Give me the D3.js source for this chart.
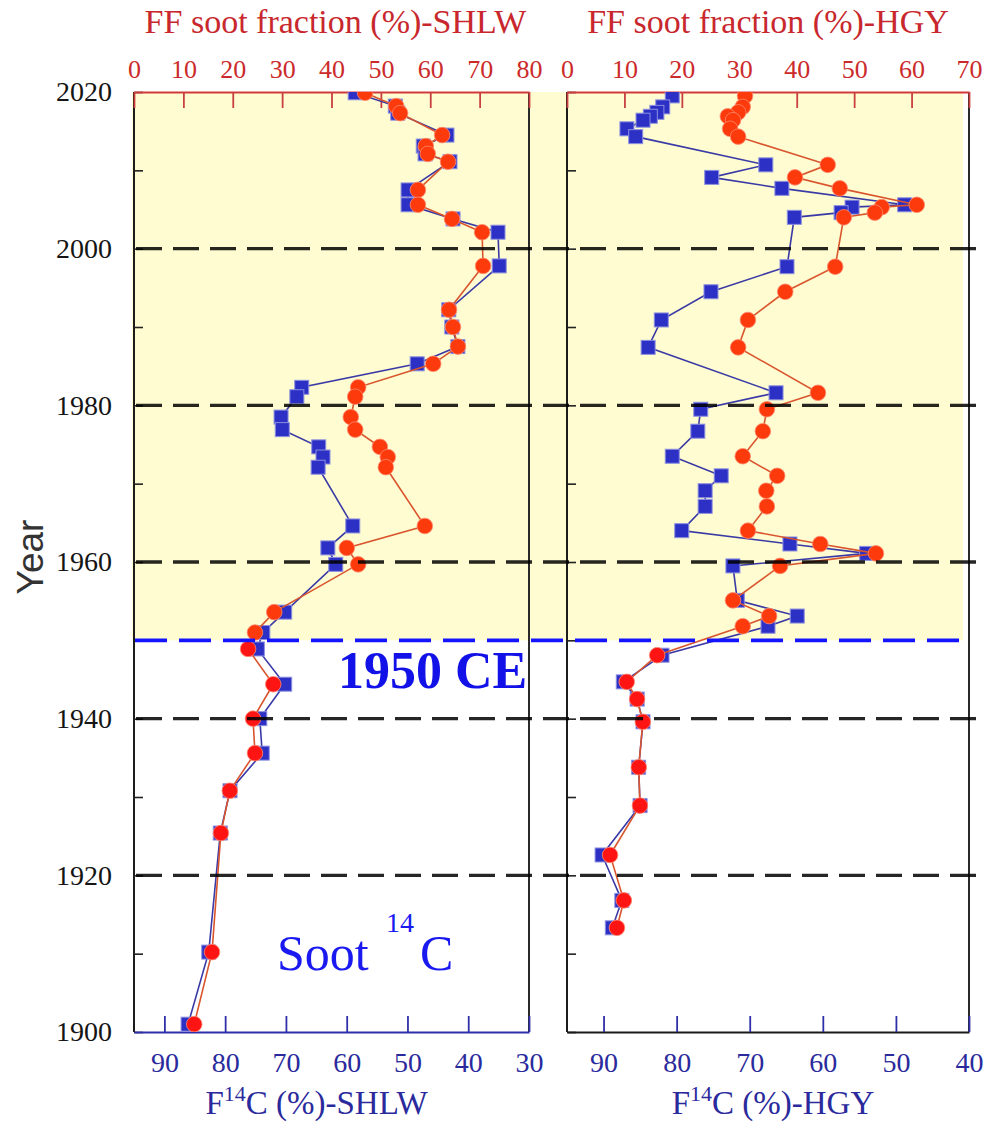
<!DOCTYPE html>
<html><head><meta charset="utf-8">
<script src="https://cdn.jsdelivr.net/npm/d3@7"></script>
<style>html,body{margin:0;padding:0;background:#fff;}svg{display:block;}</style>
</head><body>
<script>
// ---------- data ----------
const shlwYears = [2019.9, 2018.2, 2017.3, 2014.5, 2013.1, 2012.1, 2011.1, 2007.5, 2005.6, 2003.8, 2002.1, 1997.8, 1992.2, 1990.0, 1987.5, 1985.3, 1982.3, 1981.1, 1978.5, 1976.9, 1974.7, 1973.4, 1972.1, 1964.6, 1961.8, 1959.7, 1953.6, 1951.0, 1948.9, 1944.4, 1940.0, 1935.6, 1930.8, 1925.4, 1910.2, 1901.0];
const shlwF14C = [58.6, 52.0, 51.6, 43.5, 47.4, 47.1, 43.0, 49.9, 49.9, 42.5, 35.1, 34.9, 43.2, 42.7, 41.7, 48.4, 67.4, 68.2, 70.8, 70.6, 64.6, 63.9, 64.7, 59.0, 63.1, 61.8, 70.2, 73.8, 74.7, 70.2, 74.3, 73.9, 79.2, 80.8, 82.7, 86.1];
const shlwFF = [46.8, 53.1, 53.9, 62.4, 59.1, 59.5, 63.6, 57.5, 57.5, 64.4, 70.5, 70.7, 63.8, 64.6, 65.6, 60.6, 45.4, 44.8, 43.9, 44.8, 49.8, 51.4, 51.0, 58.9, 43.1, 45.4, 28.4, 24.5, 23.1, 28.2, 24.1, 24.5, 19.4, 17.6, 15.8, 12.2];

const hgyYears = [2019.5, 2018.1, 2017.4, 2016.9, 2016.4, 2015.3, 2014.3, 2010.7, 2009.1, 2007.7, 2005.6, 2005.3, 2004.6, 2004.0, 1997.7, 1994.5, 1990.9, 1987.4, 1981.6, 1979.5, 1976.7, 1973.5, 1971.0, 1969.1, 1967.1, 1964.0, 1962.3, 1961.1, 1959.5, 1955.1, 1953.1, 1951.8, 1948.1, 1944.7, 1942.5, 1939.6, 1933.8, 1928.9, 1922.6, 1916.8, 1913.3];
const hgyF14C = [80.6, 81.9, 82.7, 83.6, 84.6, 86.8, 85.6, 67.8, 75.2, 65.6, 48.8, 56.0, 57.5, 63.9, 64.9, 75.3, 82.1, 83.9, 66.4, 76.7, 77.1, 80.6, 73.9, 76.1, 76.1, 79.3, 64.5, 54.0, 72.3, 71.7, 63.5, 67.5, 82.0, 87.3, 85.4, 84.6, 85.2, 85.0, 90.2, 87.5, 88.8];
const hgyFF = [31.0, 30.6, 29.8, 28.0, 28.9, 28.4, 29.8, 45.4, 39.7, 47.5, 60.9, 54.8, 53.6, 48.2, 46.7, 38.0, 31.5, 29.8, 43.7, 34.8, 34.1, 30.6, 36.6, 34.7, 34.8, 31.5, 44.1, 53.8, 37.1, 28.9, 35.2, 30.6, 15.7, 10.4, 12.2, 13.2, 12.5, 12.7, 7.5, 9.9, 8.7];

const yearTicks = [1900, 1910, 1920, 1930, 1940, 1950, 1960, 1970, 1980, 1990, 2000, 2010, 2020];
const yearLabels = [1900, 1920, 1940, 1960, 1980, 2000, 2020];
const dashYears = [1920, 1940, 1960, 1980, 2000];
const boundaryYear = 1950;
const shlwFFTicks = [0, 10, 20, 30, 40, 50, 60, 70, 80];
const shlwFTicks = [90, 80, 70, 60, 50, 40, 30];
const hgyFFTicks = [0, 10, 20, 30, 40, 50, 60, 70];
const hgyFTicks = [90, 80, 70, 60, 50, 40];

// ---------- layout ----------
const W = 987, H = 1126;
const yTop = 92, yBot = 1032;
const serif = "'Liberation Serif','Times New Roman',serif";
const svg = d3.select("body").append("svg").attr("width", W).attr("height", H);
svg.append("rect").attr("width", W).attr("height", H).attr("fill", "#fff");

const y = d3.scaleLinear().domain([1900, 2020]).range([yBot, yTop]);

const panels = [
  {name: "SHLW", x0: 134, x1: 529, fDom: [95, 30], ffDom: [0, 80], years: shlwYears, f: shlwF14C, ff: shlwFF,
   fTicks: shlwFTicks, ffTicks: shlwFFTicks, labels: true, bottomColor: "#2f2fa8", topShift: 4, botShift: -15},
  {name: "HGY", x0: 567, x1: 969, fDom: [95, 40], ffDom: [0, 70], years: hgyYears, f: hgyF14C, ff: hgyFF,
   fTicks: hgyFTicks, ffTicks: hgyFFTicks, labels: false, bottomColor: "#1a1a1a", topShift: 0, botShift: 5}
];

// yellow background (post-1950)
svg.append("rect").attr("x", 132).attr("y", yTop).attr("width", 963 - 132)
  .attr("height", y(boundaryYear) - yTop).attr("fill", "#fefcd0");

const defs = svg.append("defs");

panels.forEach((p, i) => {
  const xF = d3.scaleLinear().domain(p.fDom).range([p.x0, p.x1]);
  const xFF = d3.scaleLinear().domain(p.ffDom).range([p.x0, p.x1]);
  const g = svg.append("g");

  g.append("line").attr("x1", p.x0).attr("x2", p.x0).attr("y1", yTop).attr("y2", yBot)
    .attr("stroke", "#1c1c1c").attr("stroke-width", 2);
  g.append("line").attr("x1", p.x1).attr("x2", p.x1).attr("y1", yTop).attr("y2", yBot)
    .attr("stroke", "#2a2a2a").attr("stroke-width", 2);

  const ya = g.append("g").attr("transform", `translate(${p.x0},0)`)
    .call(d3.axisLeft(y).tickValues(yearTicks).tickSizeInner(-9).tickSizeOuter(0).tickPadding(22)
      .tickFormat(d => (p.labels && yearLabels.includes(d)) ? String(d) : ""));
  ya.select(".domain").remove();
  ya.selectAll(".tick line").attr("stroke", "#222").attr("stroke-width", 1.6);
  ya.selectAll(".tick text").attr("font-family", serif).attr("font-size", 28).attr("fill", "#151515");

  const ta = g.append("g").attr("transform", `translate(0,${yTop})`)
    .call(d3.axisTop(xFF).tickValues(p.ffTicks).tickSizeInner(-16).tickSizeOuter(0).tickPadding(14).tickFormat(d3.format("d")));
  ta.select(".domain").attr("stroke", "#d23a3a").attr("stroke-width", 2);
  ta.selectAll(".tick line").attr("stroke", "#c84040").attr("stroke-width", 1.8);
  ta.selectAll(".tick text").attr("font-family", serif).attr("font-size", 26).attr("fill", "#cc2a2a");

  const ba = g.append("g").attr("transform", `translate(0,${yBot})`)
    .call(d3.axisBottom(xF).tickValues(p.fTicks).tickSizeInner(-16).tickSizeOuter(0).tickPadding(20).tickFormat(d3.format("d")));
  ba.select(".domain").attr("stroke", p.bottomColor).attr("stroke-width", 2);
  ba.selectAll(".tick line").attr("stroke", "#2f2fa8").attr("stroke-width", 1.8);
  ba.selectAll(".tick text").attr("font-family", serif).attr("font-size", 28).attr("fill", "#2a2a9c");

  const cx = (p.x0 + p.x1) / 2;
  g.append("text").attr("x", cx + p.topShift).attr("y", 33).attr("text-anchor", "middle")
    .attr("font-family", serif).attr("font-size", 34).attr("fill", "#c8282d")
    .text(`FF soot fraction (%)-${p.name}`);
  const bt = g.append("text").attr("x", cx + p.botShift).attr("y", 1114).attr("text-anchor", "middle")
    .attr("font-family", serif).attr("font-size", 33).attr("fill", "#2a2a9c");
  bt.append("tspan").text("F");
  bt.append("tspan").attr("dy", -13).attr("font-size", 22).text("14");
  bt.append("tspan").attr("dy", 13).text(`C (%)-${p.name}`);

  defs.append("clipPath").attr("id", "clip" + i).append("rect")
    .attr("x", p.x0 - 20).attr("y", yTop).attr("width", p.x1 - p.x0 + 40).attr("height", yBot - yTop);
  const dg = g.append("g").attr("clip-path", `url(#clip${i})`);
  const fPts = p.years.map((yr, k) => [xF(p.f[k]), y(yr), yr]);
  const ffPts = p.years.map((yr, k) => [xFF(p.ff[k]), y(yr), yr]);
  const line = d3.line().x(d => d[0]).y(d => d[1]);

  dg.append("path").attr("d", line(fPts)).attr("fill", "none").attr("stroke", "#3a3aa6").attr("stroke-width", 1.6);
  dg.selectAll("rect.sq").data(fPts).join("rect").attr("class", "sq")
    .attr("x", d => d[0] - 7).attr("y", d => d[1] - 7).attr("width", 14).attr("height", 14)
    .attr("fill", "#2c30c4").attr("stroke", "#8d90e0").attr("stroke-width", 1);
  dg.append("path").attr("d", line(ffPts)).attr("fill", "none").attr("stroke", "#d9552e").attr("stroke-width", 1.6);
  dg.selectAll("circle.ci").data(ffPts).join("circle").attr("class", "ci")
    .attr("cx", d => d[0]).attr("cy", d => d[1]).attr("r", 7.8)
    .attr("fill", d => d[2] >= boundaryYear ? "#fd3a0c" : "#ff1414")
    .attr("stroke", "#ff8a70").attr("stroke-width", 0.8);
});

svg.selectAll("line.dash").data(dashYears).join("line").attr("class", "dash")
  .attr("x1", 136).attr("x2", W).attr("y1", d => y(d)).attr("y2", d => y(d))
  .attr("stroke", "#000").attr("stroke-opacity", 0.85).attr("stroke-width", 3.4)
  .attr("stroke-dasharray", "26,11");

svg.append("line").attr("x1", 135).attr("x2", 963).attr("y1", y(boundaryYear)).attr("y2", y(boundaryYear))
  .attr("stroke", "#1414ff").attr("stroke-width", 3.8).attr("stroke-dasharray", "32,12");

svg.append("text").attr("x", 338).attr("y", 688).attr("font-family", serif).attr("font-weight", "bold")
  .attr("font-size", 52).attr("fill", "#1212e8").text("1950 CE");
const st = svg.append("text").attr("y", 970).attr("font-family", serif).attr("font-size", 50).attr("fill", "#1a1af0");
st.append("tspan").attr("x", 277).text("Soot");
st.append("tspan").attr("x", 386).attr("y", 932).attr("font-size", 28).text("14");
st.append("tspan").attr("x", 420).attr("y", 970).text("C");

svg.append("text").attr("transform", "translate(30,557) rotate(-90)").attr("text-anchor", "middle")
  .attr("dominant-baseline", "central").attr("font-family", "'Liberation Sans',Arial,sans-serif")
  .attr("font-size", 37).attr("fill", "#333").text("Year");
</script>
</body></html>
